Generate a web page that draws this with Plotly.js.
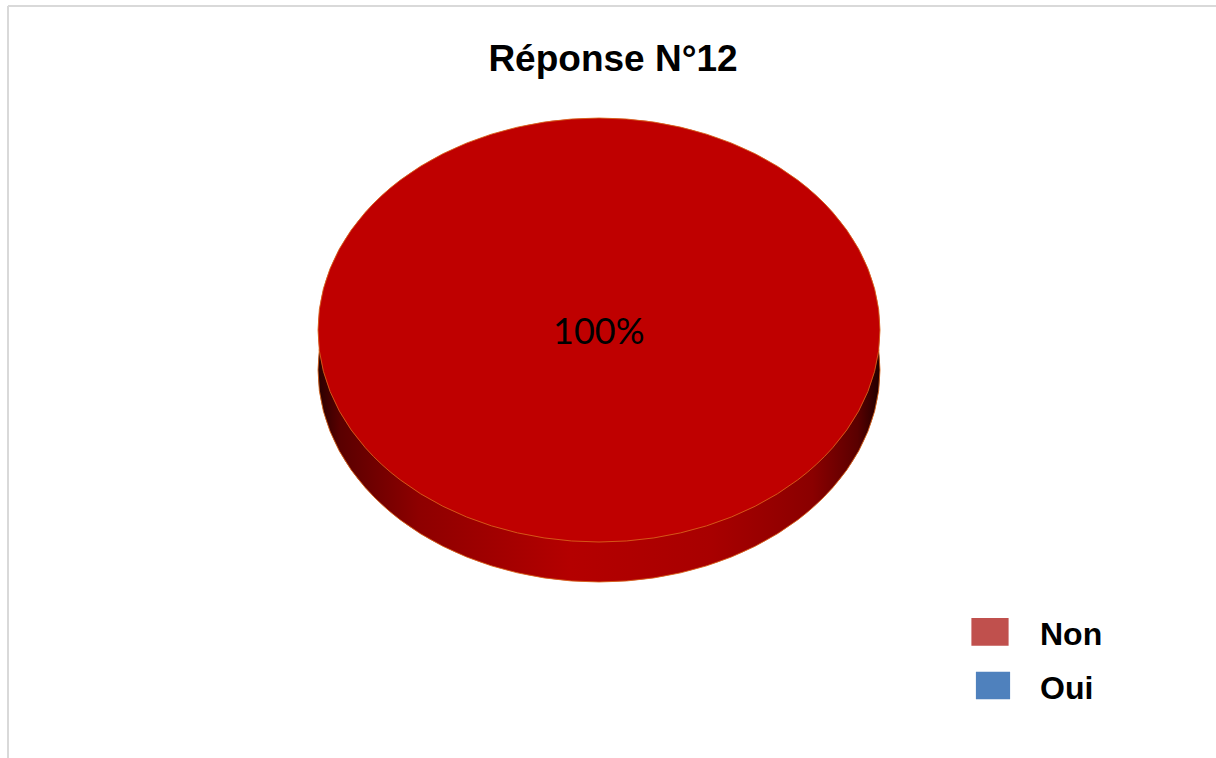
<!DOCTYPE html>
<html>
<head>
<meta charset="utf-8">
<script src="https://cdn.plot.ly/plotly-3.0.1.min.js"></script>
<style>
  html, body { margin: 0; padding: 0; background: #ffffff; }
  #chart { width: 1216px; height: 758px; }
</style>
</head>
<body>
<div id="chart"></div>
<script>
// ---- data ----
const chartTitle = 'Réponse N°12';
const categories = ['Non', 'Oui'];
const values = [100, 0];
const sliceColors = ['#BF0000', '#4F81BD'];
const legendColors = ['#C0504D', '#4F81BD'];

// ---- layout constants ----
const W = 1216, H = 758;
const pieCx = 599, pieCy = 330, pieR = 281;   // top face (before squash)
const squash = 212 / 281;                       // ellipse ry / rx
const depth = 40;                                // 3D side thickness

const total = values.reduce((a, b) => a + b, 0);
const pctText = Math.round(100 * values[0] / total) + '%';

function domainFor(cy) {
  return {
    x: [(pieCx - pieR) / W, (pieCx + pieR) / W],
    y: [1 - (cy + pieR) / H, 1 - (cy - pieR) / H]
  };
}

const legendLabels = categories.map(c => '<span style="font-size:32px">' + c + '</span>');

const sideTrace = {
  type: 'pie',
  labels: legendLabels,
  values: values,
  sort: false,
  direction: 'clockwise',
  domain: domainFor(pieCy + depth),
  marker: { colors: ['#A00000', '#2E5A8E'], line: { color: '#D8641C', width: values.map(v => v > 0 ? 1 : 0) } },
  textinfo: 'none',
  hoverinfo: 'skip',
  showlegend: false
};

const topTrace = {
  type: 'pie',
  labels: legendLabels,
  values: values,
  sort: false,
  direction: 'clockwise',
  domain: domainFor(pieCy),
  marker: { colors: sliceColors, line: { color: '#D8641C', width: values.map(v => v > 0 ? 1 : 0) } },
  textinfo: 'none',
  hovertemplate: '%{label}: %{percent}<extra></extra>',
  showlegend: true
};

const layout = {
  width: W, height: H,
  margin: { l: 0, r: 0, t: 0, b: 0 },
  paper_bgcolor: '#ffffff',
  plot_bgcolor: '#ffffff',
  title: {
    text: chartTitle,
    font: { family: 'Liberation Sans, Arial, sans-serif', size: 37, color: '#000000', weight: 'bold' },
    x: 613 / W, xanchor: 'center', xref: 'paper',
    y: 1 - 58 / H, yanchor: 'middle', yref: 'paper'
  },
  showlegend: true,
  legend: {
    x: 1000 / W, xanchor: 'left',
    y: 1 - 598 / H, yanchor: 'top',
    font: { family: 'Liberation Sans, Arial, sans-serif', size: 39, color: '#000000', weight: 'bold' },
    bgcolor: 'rgba(0,0,0,0)',
    traceorder: 'normal'
  },
  annotations: [{
    text: pctText,
    xref: 'paper', yref: 'paper',
    x: pieCx / W, y: 1 - pieCy / H,
    xanchor: 'center', yanchor: 'middle',
    showarrow: false,
    font: { family: 'Lato, Carlito, sans-serif', size: 36, color: '#000000' }
  }],
  shapes: [
    { type: 'line', xref: 'paper', yref: 'paper', x0: 8 / W, x1: 1, y0: 1 - 6 / H, y1: 1 - 6 / H, line: { color: '#d9d9d9', width: 2 } },
    { type: 'line', xref: 'paper', yref: 'paper', x0: 8 / W, x1: 8 / W, y0: 0, y1: 1 - 6 / H, line: { color: '#d9d9d9', width: 2 } }
  ]
};

const gd = document.getElementById('chart');
Plotly.newPlot(gd, [sideTrace, topTrace], layout, { displayModeBar: false }).then(function () {
  const svg = gd.querySelector('svg.main-svg');
  const ns = 'http://www.w3.org/2000/svg';
  // gradient for the 3D side
  let defs = svg.querySelector('defs');
  if (!defs) { defs = document.createElementNS(ns, 'defs'); svg.insertBefore(defs, svg.firstChild); }
  const grad = document.createElementNS(ns, 'linearGradient');
  grad.setAttribute('id', 'sideGrad');
  grad.setAttribute('x1', '0'); grad.setAttribute('x2', '1');
  grad.setAttribute('y1', '0'); grad.setAttribute('y2', '0');
  [[0, '#2a0000'], [0.04, '#5a0000'], [0.18, '#8e0000'], [0.45, '#b40000'], [0.7, '#a80000'], [0.88, '#8a0000'], [0.96, '#5a0000'], [1, '#200000']].forEach(function (s) {
    const st = document.createElementNS(ns, 'stop');
    st.setAttribute('offset', s[0]);
    st.setAttribute('stop-color', s[1]);
    grad.appendChild(st);
  });
  defs.appendChild(grad);

  // squash pies into ellipses (3D look)
  const traces = gd.querySelectorAll('.pielayer .trace');
  traces.forEach(function (t, i) {
    const cd = gd.calcdata[i] && gd.calcdata[i][0];
    const cy = (cd && cd.cy !== undefined) ? cd.cy : (i === 0 ? pieCy + depth : pieCy);
    t.setAttribute('transform', 'matrix(1,0,0,' + squash + ',0,' + (cy * (1 - squash)) + ')');
    if (i === 0) {
      const p = t.querySelector('.slice path.surface');
      if (p) p.style.fill = 'url(#sideGrad)';
    }
  });

  // legend: no clipping, Excel-like colours and sizes
  gd.querySelectorAll('.legend [clip-path]').forEach(function (el) { el.removeAttribute('clip-path'); });
  const items = gd.querySelectorAll('.legend .traces');
  items.forEach(function (tr, i) {
    const p = tr.querySelector('.legendpoints path');
    if (p) {
      p.style.fill = legendColors[i];
      p.style.stroke = 'none';
      p.style.strokeWidth = '0';
      p.setAttribute('transform', 'translate(' + (i === 0 ? -10 : -7) + ',2) scale(' + (i === 0 ? 3.1 : 2.85) + ',2.3)');
    }
  });
});
</script>
</body>
</html>
